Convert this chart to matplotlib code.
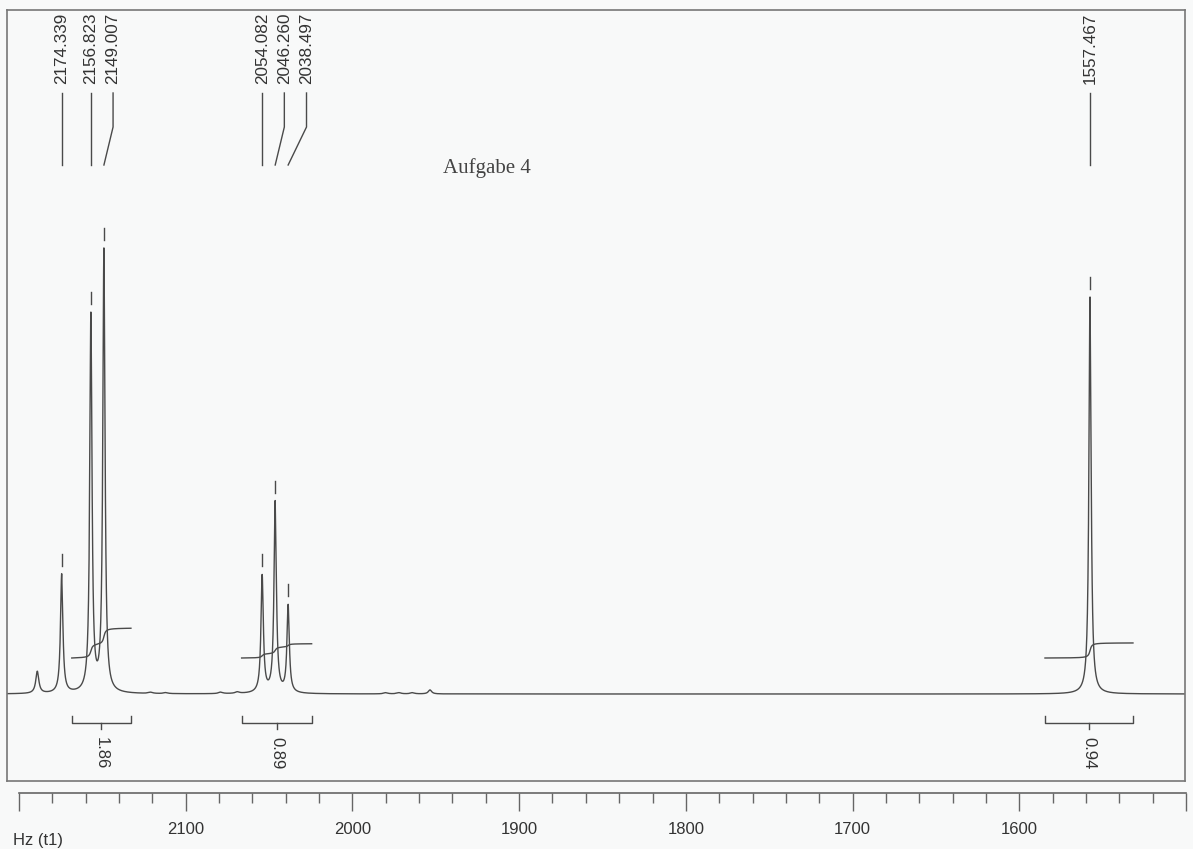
import numpy as np
import matplotlib
matplotlib.use("Agg")
import matplotlib.pyplot as plt
from matplotlib.ticker import FixedLocator, FixedFormatter, MultipleLocator

plt.rcParams['font.family'] = ['Liberation Sans', 'DejaVu Sans']

# ---------------- data ----------------
# main signals: position (Hz), height (relative intensity), half width (Hz)
peak_hz = [2188.97, 2174.339, 2156.823, 2149.007, 2054.082, 2046.260, 2038.497, 1557.467]
peak_height = [22, 119, 377, 442, 117, 191, 87, 397]
peak_hwhm = [1.1, 0.85, 0.8, 0.8, 0.85, 0.85, 0.85, 0.8]

# tiny baseline wiggles
minor_hz = [2121.0, 2112.0, 2079.0, 2069.0, 1980.0, 1972.0, 1964.0, 1953.4]
minor_height = [1.2, 1.0, 1.5, 1.5, 1.2, 1.2, 1.2, 4.0]
minor_hwhm = [1.5, 1.5, 1.5, 1.5, 1.5, 1.5, 1.5, 1.2]

# peak-picking labels, grouped as on the plot
label_groups = [[2174.339, 2156.823, 2149.007],
                [2054.082, 2046.260, 2038.497],
                [1557.467]]

# integrals
integral_ranges = [(2168.3, 2132.8), (2066.4, 2024.4), (1584.5, 1531.7)]
integral_values = [1.86, 0.89, 0.94]

# axis
axis_major = [2200, 2100, 2000, 1900, 1800, 1700, 1600, 1500]
axis_labels = ['', '2100', '2000', '1900', '1800', '1700', '1600', '']
axis_minor_step = 20
title_text = 'Aufgabe 4'
unit_text = 'Hz (t1)'

# ---------------- figure ----------------
W, H = 1193, 849
fig = plt.figure(figsize=(W / 100, H / 100), dpi=100)
bg = '#f8f9f9'
fig.patch.set_facecolor(bg)

def fx(px):
    return px / W

def fy(py):
    return 1 - py / H

# main framed box
box_l, box_r, box_t, box_b = 7, 1185, 10, 781
ax = fig.add_axes([fx(box_l), fy(box_b), (box_r - box_l) / W, (box_b - box_t) / H])
ax.set_facecolor(bg)
ax.set_xlim(2207.15, 1500.5)
ax.set_ylim(-87, 684)
ax.set_xticks([])
ax.set_yticks([])
for s in ax.spines.values():
    s.set_color('#777777')
    s.set_linewidth(1.2)

ink = '#4a4a4a'

# spectrum
x = np.arange(1500.5, 2207.2, 0.01)
y = np.zeros_like(x)
for c, h, w in zip(peak_hz + minor_hz, peak_height + minor_height, peak_hwhm + minor_hwhm):
    y += h / (1 + ((x - c) / w) ** 2)
ax.plot(x, y, color=ink, lw=1.0)

# peak labels
sep = 13.3          # Hz between neighbouring labels
txt_y, top_y, bend_y, bot_y = 610, 601, 567, 529
for grp in label_groups:
    tops = []
    for i, p in enumerate(grp):
        t = p if i == 0 else min(p, tops[-1] - sep)
        tops.append(t)
    for p, t in zip(grp, tops):
        ax.text(t, txt_y, f'{p:.3f}', rotation=90, ha='center', va='bottom',
                fontsize=12.3, color='#333333')
        if abs(t - p) < 0.3:
            ax.plot([p, p], [top_y, bot_y], color=ink, lw=1.0)
        else:
            ax.plot([t, t, p], [top_y, bend_y, bot_y], color=ink, lw=1.0)
        # marker above peak top
        hp = np.interp(p, x, y)
        ax.plot([p, p], [hp + 8, hp + 20], color=ink, lw=1.0)

# integrals
unit_rise = 16.0
base_off = 36.0
for (a, b), v in zip(integral_ranges, integral_values):
    m = (x <= a) & (x >= b)
    xs = x[m][::-1]
    ys = y[m][::-1]
    cum = np.cumsum(ys)
    cum = cum / cum[-1]
    ax.plot(xs, base_off + cum * v * unit_rise, color=ink, lw=1.0)
    # bracket
    mid = (a + b) / 2
    ax.plot([a, a, b, b], [-22, -29, -29, -22], color=ink, lw=1.0)
    ax.plot([mid, mid], [-29, -35], color=ink, lw=1.0)
    ax.text(mid, -43, f'{v:.2f}', rotation=270, ha='center', va='top',
            fontsize=12, color='#333333')

ax.text(1945.6, 521, title_text, fontsize=15, color='#444444',
        family='Liberation Serif', ha='left', va='baseline')

# scale axis below the box
ax2 = fig.add_axes([fx(19), fy(793), 1167 / W, 0.0001])
ax2.set_facecolor('none')
ax2.patch.set_visible(False)
ax2.set_xlim(2200, 1500)
ax2.set_yticks([])
for k in ['left', 'right', 'top']:
    ax2.spines[k].set_visible(False)
ax2.spines['bottom'].set_color('#666666')
ax2.spines['bottom'].set_linewidth(1.2)
ax2.xaxis.set_major_locator(FixedLocator(axis_major))
ax2.xaxis.set_major_formatter(FixedFormatter(axis_labels))
ax2.xaxis.set_minor_locator(MultipleLocator(axis_minor_step))
ax2.tick_params(axis='x', which='major', direction='out', length=13, width=1.0,
                color='#666666', labelsize=12, labelcolor='#333333', pad=8)
ax2.tick_params(axis='x', which='minor', direction='out', length=7.5, width=1.0,
                color='#666666')

fig.text(fx(13), fy(840), unit_text, fontsize=12, color='#333333', ha='left', va='center')

fig.savefig('out.png', dpi=100, facecolor=bg)
